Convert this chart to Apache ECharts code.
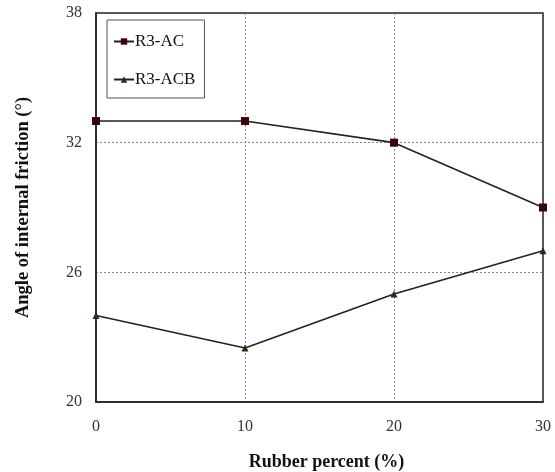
<!DOCTYPE html>
<html>
<head>
<meta charset="utf-8">
<script src="https://cdn.jsdelivr.net/npm/echarts@6/dist/echarts.min.js"></script>
<style>
  html, body { margin: 0; padding: 0; background: #fff; }
  #chart { width: 555px; height: 472px; }
</style>
</head>
<body>
<div id="chart"></div>
<script>
// Rubber content (%) and angle of internal friction (°) for the two mixes
const rubberPercent = [0, 10, 20, 30];
const r3AC = [33, 33, 32, 29];
const r3ACB = [24, 22.5, 25, 27];
const seriesNames = ['R3-AC', 'R3-ACB'];

const font = 'Liberation Serif, Times New Roman, serif';
const pairs = (xs, ys) => xs.map((x, i) => [x, ys[i]]);

const chart = echarts.init(document.getElementById('chart'));
chart.setOption({
  animation: false,
  backgroundColor: '#fff',
  textStyle: { fontFamily: font },
  grid: {
    left: 96, right: 12, top: 13, bottom: 70,
    outerBoundsMode: 'none',
    show: true, borderColor: '#222', borderWidth: 1.5, backgroundColor: 'transparent'
  },
  legend: {
    orient: 'vertical',
    left: 107, top: 20,
    padding: [13, 9, 10, 6],
    itemGap: 21,
    itemWidth: 20, itemHeight: 8,
    borderColor: '#555', borderWidth: 1,
    textStyle: { fontFamily: font, fontSize: 17, color: '#111', padding: [0, 0, 0, -4] },
    data: seriesNames
  },
  xAxis: {
    type: 'value', min: 0, max: 30, interval: 10,
    name: 'Rubber percent (%)', nameLocation: 'middle', nameGap: 51,
    nameTextStyle: { fontFamily: font, fontSize: 18, fontWeight: 'bold', color: '#111',
      padding: [0, 0, 0, 14] },
    axisLine: { show: true, lineStyle: { color: '#222', width: 1.5 } },
    axisTick: { show: false },
    axisLabel: { fontFamily: font, fontSize: 16, color: '#333', margin: 17 },
    splitLine: { show: true, showMinLine: false, showMaxLine: false,
      lineStyle: { color: '#888', type: [2, 2], width: 1 } }
  },
  yAxis: {
    type: 'value', min: 20, max: 38, interval: 6,
    name: 'Angle of internal friction (°)', nameLocation: 'middle', nameGap: 63,
    nameTextStyle: { fontFamily: font, fontSize: 18.5, fontWeight: 'bold', color: '#111' },
    axisLine: { show: true, lineStyle: { color: '#222', width: 1.5 } },
    axisTick: { show: false },
    axisLabel: { fontFamily: font, fontSize: 16, color: '#333', margin: 14 },
    splitLine: { show: true, showMinLine: false, showMaxLine: false,
      lineStyle: { color: '#888', type: [2, 2], width: 1 } }
  },
  series: [
    {
      name: seriesNames[0], type: 'line',
      data: pairs(rubberPercent, r3AC),
      symbol: 'rect', symbolSize: 8,
      itemStyle: { color: '#3a0508' },
      lineStyle: { color: '#222', width: 1.6 }
    },
    {
      name: seriesNames[1], type: 'line',
      data: pairs(rubberPercent, r3ACB),
      symbol: 'triangle', symbolSize: 7,
      itemStyle: { color: '#2b2b10' },
      lineStyle: { color: '#222', width: 1.6 }
    }
  ]
});
</script>
</body>
</html>
